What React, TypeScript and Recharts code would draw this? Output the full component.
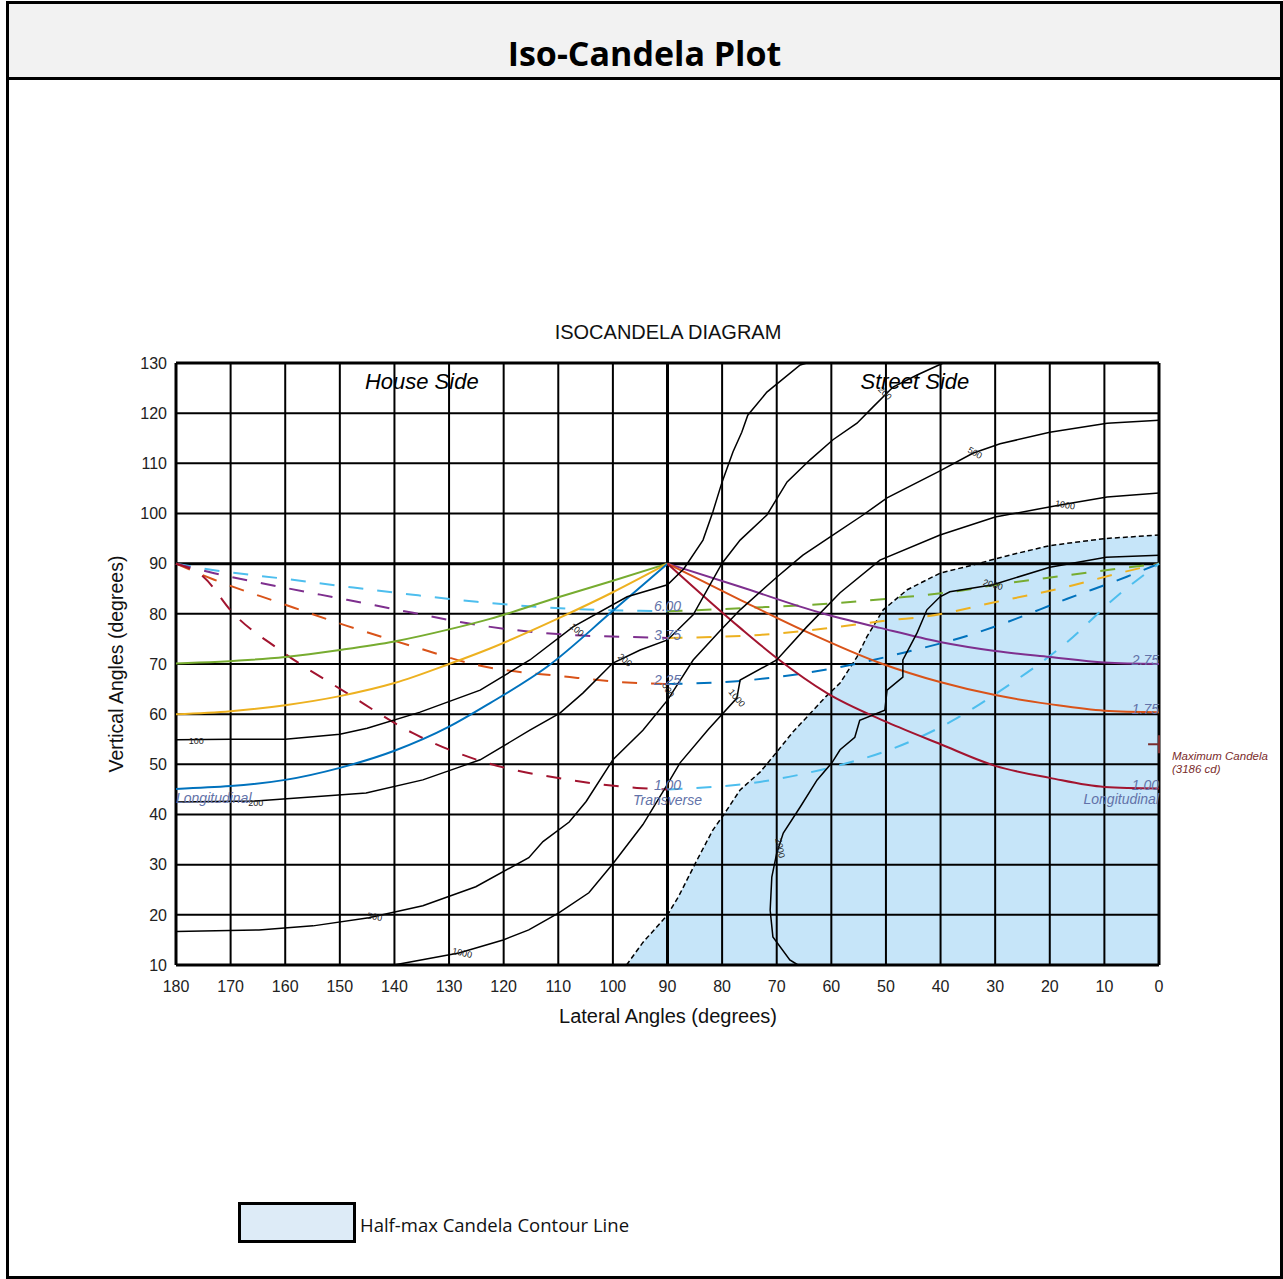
import { ComposedChart, Line, Area, XAxis, YAxis, ReferenceLine, Scatter } from 'recharts';

type Pt = { x: number; y: number };
const toPts = (rows: number[][]): Pt[] => rows.map(([x, y]) => ({ x, y }));

// axis ticks (lateral runs 180 -> 0 left to right)
const lateralTicks = [0, 10, 20, 30, 40, 50, 60, 70, 80, 90, 100, 110, 120, 130, 140, 150, 160, 170, 180];
const verticalTicks = [10, 20, 30, 40, 50, 60, 70, 80, 90, 100, 110, 120, 130];

// half-max candela contour (shaded below it)
const halfMax = toPts([
  [97.5, 10], [94.5, 14.5], [90, 20], [88, 23.6], [84.6, 30.9], [81.7, 36.9], [79.8, 39.8],
  [76.7, 44.9], [73, 48.5], [70.7, 51.5], [67, 56.5], [64.5, 59.4], [61, 63.5], [58.4, 66.2],
  [55.3, 71.4], [53.5, 75.4], [50.5, 80.8], [46.1, 84.8], [40.1, 88.1], [34.6, 89.6],
  [27, 91.8], [20, 93.6], [10, 95], [0, 95.7],
]);

// iso-candela contours
const cd100 = toPts([
  [180, 54.9], [170, 55], [160, 55], [150, 56], [145, 57.2], [135.3, 60.4], [124.3, 64.8],
  [115.2, 70.8], [107.3, 77.4], [97.4, 83.4], [90, 85.8], [87, 89], [83.5, 94.7], [81.7, 100.3],
  [80, 106.3], [78, 112.3], [76.4, 116.2], [75.3, 119.6], [71.8, 124.2], [65.7, 129.6], [64.5, 130],
]);
const cd200 = toPts([
  [180, 42.5], [165.4, 42.7], [145.2, 44.3], [134.8, 46.9], [128, 49.5], [124.3, 50.9],
  [115.2, 56.8], [109.7, 60.2], [105.5, 64.2], [100, 70.2], [95, 72.8], [90, 74.8], [85.3, 79.8],
  [80, 90.1], [76.7, 94.7], [71.8, 99.7], [68.1, 106.3], [63.9, 110.7], [59.7, 114.7],
  [55.3, 118], [52.4, 121.2], [48.7, 125.2], [44.3, 127.6], [39.5, 130],
]);
const cd500 = toPts([
  [180, 16.7], [164.8, 17], [154.9, 17.8], [144.7, 19.4], [134.8, 21.8], [125.1, 25.6],
  [115.4, 31.4], [112.8, 34.6], [108, 38.5], [104.9, 42.6], [100, 50.9], [94.5, 56.8], [90, 62.8],
  [85.3, 70.8], [80.5, 76.5], [76.7, 80.8], [70, 87.3], [66.3, 90.7], [65.2, 91.7], [60, 95.5],
  [54.2, 99.7], [49.8, 103.1], [40.1, 108.5], [34.1, 112], [29.1, 113.9], [20, 116.2],
  [9.5, 118], [0, 118.6],
]);
const cd1000 = toPts([
  [140.1, 10], [128.2, 12.4], [120.1, 15], [115.4, 17], [109.9, 20.4], [104.4, 24.4], [100, 30.2],
  [94.5, 38], [90.3, 45.5], [87.7, 50.3], [82.5, 57], [77.3, 63.2], [76.7, 66.8], [70, 70.8],
  [64.5, 77.4], [58.4, 84.2], [51.1, 90.7], [40.1, 95.7], [30, 99.3], [18.1, 101.7],
  [9.5, 103.3], [0, 104.1],
]);
const cd2000 = toPts([
  [66.1, 10], [67.6, 11], [70.7, 15.6], [71.2, 20.9], [70.9, 27.5], [70, 32.3], [68.8, 36.3],
  [65.7, 41.5], [62.6, 46.9], [59.9, 50.3], [58.4, 52.9], [55.7, 55.4], [54.8, 58.8], [50.2, 60.8],
  [49.8, 64.8], [46.9, 67.4], [46.9, 70.8], [44.3, 76.2], [42.5, 80.8], [40.1, 83.4], [38.3, 84.4],
  [30.4, 85.8], [20, 89.3], [9.7, 91.3], [0, 91.7],
]);

// roadway width lines, house side (solid)
const house70 = toPts([[180, 70.1], [160, 71.4], [150, 72.8], [140, 74.5], [130, 76.9], [122.5, 79], [110, 83.3], [100, 86.6], [90, 90]]);
const house60 = toPts([[180, 60], [170, 60.6], [160, 61.8], [150, 63.6], [140, 66.2], [130, 70], [122.5, 73.1], [110, 79.1], [100, 84.3], [90, 90]]);
const house45 = toPts([[180, 45.1], [160, 46.9], [150, 49.3], [140, 52.7], [130, 57.5], [122.5, 62.2], [112.1, 69.4], [100, 80.6], [90, 90]]);
// street side (solid)
const street275 = toPts([[90, 90], [76.7, 85.4], [62, 80.2], [51.1, 77.2], [40.1, 74.4], [30, 72.6], [20, 71.4], [10, 70.3], [0, 70]]);
const street175 = toPts([[90, 90], [76.7, 82.8], [64.5, 76.4], [51.1, 70.2], [40.1, 66.4], [30, 63.8], [20, 62], [10, 60.7], [0, 60.4]]);
const street100 = toPts([[90, 90], [76.7, 77.2], [70, 71.2], [60.8, 64.2], [49.8, 58.4], [40, 54], [30, 49.7], [20, 47.3], [10, 45.5], [0, 45.2]]);

// transverse lines (dashed), left and right halves
const t600L = toPts([[180, 90], [173, 88.7], [161, 87.1], [148.7, 85.4], [136.6, 83.8], [124.9, 82.4], [107.9, 81], [95, 80.6], [90, 80.5]]);
const t600R = toPts([[90, 80.5], [74.9, 81.2], [58.4, 82.2], [48, 83.2], [37.7, 84.4], [29.7, 85.8], [16.8, 87.7], [0, 90]]);
const t375L = toPts([[180, 90], [173, 88.1], [161, 85.4], [148.7, 82.8], [136.6, 80.2], [124.9, 77.8], [107.9, 75.8], [97.4, 75.4], [90, 75.2]]);
const t375R = toPts([[90, 75.2], [73.1, 75.8], [60.2, 77.2], [48.7, 78.8], [43.2, 79.4], [29.7, 82.4], [16.8, 85.4], [7.7, 88], [0, 90]]);
const t225L = toPts([[180, 90], [173, 86.8], [161, 82.2], [148.7, 77.6], [136.6, 73.5], [124.9, 69.8], [107.9, 67.4], [97.4, 66.3], [90, 66]]);
const t225R = toPts([[90, 66], [74.9, 66.8], [58.4, 69.4], [46.2, 72.4], [34.6, 75.8], [29.7, 77.6], [16.8, 83], [5.9, 87.4], [0, 90]]);
const t100L = toPts([[180, 90], [175, 87.4], [169.6, 80.2], [161, 72.8], [148.7, 64.2], [136.6, 56.2], [124.9, 50.9], [107.9, 46.9], [95.6, 45.3], [90, 45]]);
const t100R = toPts([[90, 45], [73.1, 46.5], [59.7, 49.5], [49.3, 52.9], [37, 59.2], [29.7, 64.2], [16.8, 74.4], [7.7, 83.5], [0, 90]]);

// maximum candela marker
const maxMarkH = toPts([[2, 54], [0, 54]]);
const maxMarkV = toPts([[0, 52.2], [0, 55.8]]);

const contourLabels = [
  { x: 176.3, y: 54.7, text: '100', rot: 0 },
  { x: 165.4, y: 42.3, text: '200', rot: 0 },
  { x: 143.6, y: 19.6, text: '500', rot: 10 },
  { x: 127.6, y: 12.4, text: '1000', rot: 12 },
  { x: 106.6, y: 76.8, text: '100', rot: 40 },
  { x: 97.8, y: 70.8, text: '200', rot: 40 },
  { x: 89.9, y: 64.8, text: '500', rot: 60 },
  { x: 77.3, y: 63.2, text: '1000', rot: 50 },
  { x: 69.4, y: 33.3, text: '2000', rot: 80 },
  { x: 50.2, y: 124, text: '200', rot: 45 },
  { x: 33.7, y: 112.1, text: '500', rot: 30 },
  { x: 17.2, y: 101.7, text: '1000', rot: 10 },
  { x: 30.4, y: 85.8, text: '2000', rot: 15 },
];
const centerLabels = [
  { x: 90, y: 81.6, text: '6.00' },
  { x: 90, y: 75.8, text: '3.75' },
  { x: 90, y: 66.8, text: '2.25' },
  { x: 90, y: 45.8, text: '1.00' },
  { x: 90, y: 42.9, text: 'Transverse' },
];
const rightLabels = [
  { x: 0, y: 70.8, text: '2.75' },
  { x: 0, y: 61.0, text: '1.75' },
  { x: 0, y: 45.8, text: '1.00' },
  { x: 0, y: 43.1, text: 'Longitudinal' },
];
const leftLabels = [{ x: 180, y: 43.3, text: 'Longitudinal' }];
const sideLabels = [
  { x: 135, y: 126.4, text: 'House Side' },
  { x: 44.7, y: 126.4, text: 'Street Side' },
];
const maxLabel = [{ x: 0, y: 54, text: 'Maximum Candela', sub: '(3186 cd)' }];

const ARIAL = "'Liberation Sans', Arial, sans-serif";
const LABEL_BLUE = '#6272a8';

const ContourText = (p: any) => (
  <text
    x={p.cx}
    y={p.cy}
    transform={`rotate(${p.payload.rot} ${p.cx} ${p.cy})`}
    textAnchor="middle"
    dominantBaseline="central"
    fontSize={9}
    fontFamily={ARIAL}
    fill="#222"
  >
    {p.payload.text}
  </text>
);

const makeItalic = (anchor: 'start' | 'middle' | 'end', size: number, color: string) => (p: any) => (
  <text
    x={p.cx}
    y={p.cy}
    textAnchor={anchor}
    dominantBaseline="central"
    fontSize={size}
    fontStyle="italic"
    fontFamily={ARIAL}
    fill={color}
  >
    {p.payload.text}
  </text>
);

// two separate text lines so they do not collide
const MaxText = (p: any) => (
  <g>
    <text x={p.cx + 13} y={p.cy + 12} fontSize={11.5} fontStyle="italic" fontFamily={ARIAL} fill="#7b2c2c" dominantBaseline="central">
      {p.payload.text}
    </text>
    <text x={p.cx + 13} y={p.cy + 25} fontSize={11.5} fontStyle="italic" fontFamily={ARIAL} fill="#7b2c2c" dominantBaseline="central">
      {p.payload.sub}
    </text>
  </g>
);

const blackLine = (data: Pt[], key: string) => (
  <Line key={key} data={data} dataKey="y" type="linear" stroke="#000" strokeWidth={1.5} dot={false} isAnimationActive={false} />
);
const colorLine = (data: Pt[], key: string, color: string, dashed = false) => (
  <Line
    key={key}
    data={data}
    dataKey="y"
    type="monotone"
    stroke={color}
    strokeWidth={2}
    strokeDasharray={dashed ? '15 14' : undefined}
    dot={false}
    isAnimationActive={false}
  />
);

export default function App() {
  return (
    <div style={{ position: 'absolute', left: 0, top: 0, width: 1283, height: 1279, background: '#fff' }}>
      {/* page frame */}
      <div style={{ position: 'absolute', left: 6, top: 1, width: 1277, height: 1278, border: '3px solid #000', boxSizing: 'border-box' }} />
      <div style={{ position: 'absolute', left: 9, top: 4, width: 1271, height: 73, background: '#f2f2f2', borderBottom: '3px solid #000' }} />
      <div style={{ position: 'absolute', left: 6, top: 31, width: 1277, textAlign: 'center', fontFamily: "'Open Sans', sans-serif", fontWeight: 700, fontSize: 34, lineHeight: '44px', color: '#000' }}>
        Iso-Candela Plot
      </div>

      <div style={{ position: 'absolute', left: 0, top: 0 }}>
        <ComposedChart width={1283} height={1100} margin={{ top: 363, right: 124, bottom: 105, left: 116 }}>
          <XAxis
            type="number"
            dataKey="x"
            domain={[0, 180]}
            reversed
            ticks={lateralTicks}
            interval={0}
            axisLine={false}
            tickLine={false}
            tickSize={0}
            tickMargin={16}
            height={30}
            tick={{ fontSize: 16, fontFamily: ARIAL, fill: '#222' }}
          />
          <YAxis
            type="number"
            dataKey="y"
            domain={[10, 130]}
            ticks={verticalTicks}
            interval={0}
            axisLine={false}
            tickLine={false}
            tickSize={0}
            tickMargin={9}
            width={60}
            tick={{ fontSize: 16, fontFamily: ARIAL, fill: '#222' }}
          />
          <Area
            data={halfMax}
            dataKey="y"
            type="linear"
            baseValue={10}
            fill="#c6e5f9"
            fillOpacity={1}
            stroke="#000"
            strokeWidth={1.5}
            strokeDasharray="5 3"
            isAnimationActive={false}
          />
          {lateralTicks.map((v) => (
            <ReferenceLine key={`gx${v}`} x={v} stroke="#000" strokeWidth={v === 0 || v === 90 || v === 180 ? 3 : 2} />
          ))}
          {verticalTicks.map((v) => (
            <ReferenceLine key={`gy${v}`} y={v} stroke="#000" strokeWidth={v === 10 || v === 90 || v === 130 ? 3 : 2} />
          ))}

          {colorLine(t600L, 't600L', '#4dbeee', true)}
          {colorLine(t600R, 't600R', '#77ac30', true)}
          {colorLine(t375L, 't375L', '#7e2f8e', true)}
          {colorLine(t375R, 't375R', '#edb120', true)}
          {colorLine(t225L, 't225L', '#d95319', true)}
          {colorLine(t225R, 't225R', '#0072bd', true)}
          {colorLine(t100L, 't100L', '#a2142f', true)}
          {colorLine(t100R, 't100R', '#4dbeee', true)}

          {colorLine(house70, 'h70', '#77ac30')}
          {colorLine(house60, 'h60', '#edb120')}
          {colorLine(house45, 'h45', '#0072bd')}
          {colorLine(street275, 's275', '#7e2f8e')}
          {colorLine(street175, 's175', '#d95319')}
          {colorLine(street100, 's100', '#a2142f')}

          {blackLine(cd100, 'cd100')}
          {blackLine(cd200, 'cd200')}
          {blackLine(cd500, 'cd500')}
          {blackLine(cd1000, 'cd1000')}
          {blackLine(cd2000, 'cd2000')}

          <Line data={maxMarkH} dataKey="y" type="linear" stroke="#7b2c2c" strokeWidth={2} dot={false} isAnimationActive={false} />
          <Line data={maxMarkV} dataKey="y" type="linear" stroke="#7b2c2c" strokeWidth={2} dot={false} isAnimationActive={false} />

          <Scatter data={contourLabels} shape={ContourText} isAnimationActive={false} />
          <Scatter data={centerLabels} shape={makeItalic('middle', 14, LABEL_BLUE)} isAnimationActive={false} />
          <Scatter data={rightLabels} shape={makeItalic('end', 14, LABEL_BLUE)} isAnimationActive={false} />
          <Scatter data={leftLabels} shape={makeItalic('start', 14, LABEL_BLUE)} isAnimationActive={false} />
          <Scatter data={sideLabels} shape={makeItalic('middle', 22, '#000')} isAnimationActive={false} />
          <Scatter data={maxLabel} shape={MaxText} isAnimationActive={false} />
        </ComposedChart>
      </div>

      {/* chart titles */}
      <div style={{ position: 'absolute', left: 368, top: 320, width: 600, textAlign: 'center', fontFamily: ARIAL, fontSize: 20, lineHeight: '24px', color: '#111' }}>
        ISOCANDELA DIAGRAM
      </div>
      <div style={{ position: 'absolute', left: 368, top: 1004, width: 600, textAlign: 'center', fontFamily: ARIAL, fontSize: 20, lineHeight: '24px', color: '#111' }}>
        Lateral Angles (degrees)
      </div>
      <div
        style={{
          position: 'absolute',
          left: 116 - 200,
          top: 664 - 12,
          width: 400,
          textAlign: 'center',
          fontFamily: ARIAL,
          fontSize: 19.5,
          lineHeight: '24px',
          color: '#111',
          transform: 'rotate(-90deg)',
          transformOrigin: '200px 12px',
        }}
      >
        Vertical Angles (degrees)
      </div>

      {/* legend */}
      <div style={{ position: 'absolute', left: 238, top: 1202, width: 118, height: 41, border: '3px solid #000', background: '#ddebf7', boxSizing: 'border-box' }} />
      <div style={{ position: 'absolute', left: 360, top: 1211, fontFamily: "'Open Sans', sans-serif", fontSize: 18.5, lineHeight: '28px', color: '#111' }}>
        Half-max Candela Contour Line
      </div>
    </div>
  );
}
